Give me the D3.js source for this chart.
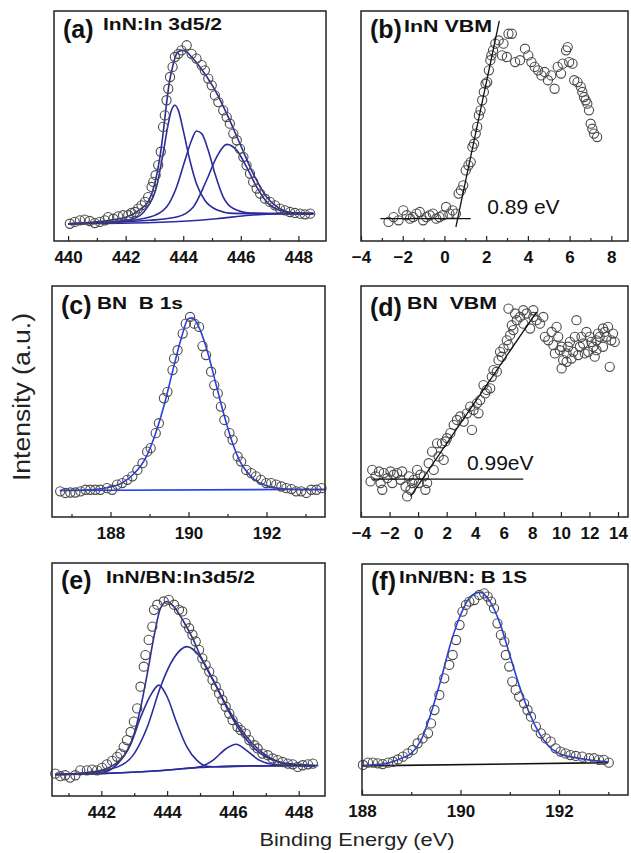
<!DOCTYPE html>
<html>
<head>
<meta charset="utf-8">
<title>XPS spectra InN / BN</title>
<script src="https://cdn.jsdelivr.net/npm/d3@7"></script>
<style>
  body { margin: 0; background: #fff; }
  svg { display: block; font-family: 'Liberation Sans', Arial, sans-serif; }
  .frame { fill: none; stroke: #222; stroke-width: 1.5; }
  .tick text { font-size: 17px; font-weight: bold; fill: #111; }
  .tick line { stroke: #222; stroke-width: 1.2; }
  .pt { fill: none; stroke: #4a4a4a; stroke-width: 1.1; }
  .tag { font-size: 25px; font-weight: bold; fill: #111; }
  .ttl { font-size: 17px; font-weight: bold; fill: #111; white-space: pre; }
  .note { font-size: 21px; fill: #111; }
  .axlab { font-size: 21px; fill: #222; }
</style>
</head>
<body>
<svg width="631" height="853"></svg>
<script>
// ---- (a) InN: In 3d5/2 ----
const aData = [[440.06,7.5],[440.23,8.3],[440.41,9.0],[440.58,9.3],[440.75,8.7],[440.93,7.8],[441.10,8.3],[441.28,9.0],[441.39,10.4],[441.57,9.7],[441.74,10.7],[441.91,11.2],[442.09,11.2],[442.20,12.2],[442.32,12.6],[442.43,14.1],[442.55,15.5],[442.67,17.0],[442.78,19.1],[442.90,23.5],[442.96,25.7],[443.04,28.6],[443.13,33.0],[443.22,38.8],[443.30,49.6],[443.36,54.6],[443.42,61.2],[443.48,66.2],[443.54,71.3],[443.63,75.7],[443.71,80.0],[443.83,81.4],[443.94,82.9],[444.12,85.1],[444.29,81.4],[444.46,79.3],[444.64,76.5],[444.75,74.2],[444.87,70.6],[444.99,67.7],[445.10,63.3],[445.22,60.4],[445.39,56.8],[445.51,53.9],[445.62,51.0],[445.74,46.7],[445.86,43.8],[445.97,40.1],[446.09,36.5],[446.20,32.9],[446.32,29.3],[446.43,25.7],[446.55,22.8],[446.67,20.6],[446.84,18.4],[447.01,17.0],[447.19,15.5],[447.36,14.1],[447.54,13.3],[447.71,12.6],[447.88,12.2],[448.06,11.9],[448.23,11.6],[448.41,11.9]];
const aEnvelope = [[440.0,7.5],[440.99,8.3],[442.03,10.4],[442.49,13.6],[442.81,17.7],[443.01,24.9],[443.19,36.5],[443.30,46.7],[443.42,59.7],[443.51,68.4],[443.63,75.7],[443.77,81.4],[443.94,82.9],[444.12,82.2],[444.29,80.0],[444.58,75.7],[445.04,67.0],[445.51,55.4],[445.97,42.3],[446.43,29.3],[446.90,19.1],[447.36,14.1],[447.83,12.3],[448.52,11.9]];
const aPeak1 = [[440.0,7.5],[441.10,7.8],[442.26,9.7],[442.72,14.1],[443.07,23.5],[443.30,38.0],[443.48,51.0],[443.59,56.8],[443.71,59.0],[443.83,56.8],[444.00,48.1],[444.23,35.1],[444.46,24.9],[444.75,17.7],[445.16,13.6],[445.74,12.0],[446.90,11.9],[448.52,11.9]];
const aPeak2 = [[440.0,7.5],[441.68,8.3],[442.84,10.4],[443.42,14.8],[443.77,23.5],[444.06,35.1],[444.29,43.8],[444.46,47.8],[444.64,46.7],[444.87,39.4],[445.10,29.3],[445.39,19.1],[445.74,14.1],[446.32,12.2],[447.48,11.9],[448.52,11.9]];
const aPeak3 = [[440.0,7.5],[442.84,9.0],[443.77,10.4],[444.35,14.8],[444.81,26.4],[445.16,36.5],[445.51,42.0],[445.86,39.4],[446.20,32.2],[446.55,23.5],[446.90,17.0],[447.36,13.3],[448.06,11.9],[448.52,11.9]];
const aBase = [[440.0,7.5],[442.26,7.8],[444.0,8.6],[445.16,9.7],[446.32,11.2],[447.48,11.9],[448.52,11.9]];
const aTicks = [440, 442, 444, 446, 448];
const aMinor = [441, 443, 445, 447];

// ---- (b) InN VBM ----
const bData = [[-2.68,8.3],[-2.44,10.4],[-2.20,9.0],[-1.97,13.3],[-1.81,11.2],[-1.65,9.7],[-1.50,10.4],[-1.34,11.9],[-1.18,12.6],[-1.02,9.0],[-0.87,10.4],[-0.71,11.2],[-0.55,11.9],[-0.39,9.7],[-0.24,10.4],[-0.08,11.2],[0.08,14.8],[0.24,11.9],[0.39,13.3],[0.55,11.9],[0.68,20.6],[0.79,22.0],[0.90,24.2],[1.02,30.7],[1.15,32.9],[1.26,34.3],[1.34,40.9],[1.42,42.3],[1.50,46.7],[1.57,49.6],[1.65,54.6],[1.73,56.8],[1.81,61.2],[1.89,64.8],[1.97,68.4],[2.05,69.1],[2.13,74.2],[2.20,78.6],[2.25,80.7],[2.33,82.9],[2.44,85.8],[2.60,87.2],[2.83,85.8],[3.07,90.1],[3.23,90.1],[2.76,80.7],[2.99,80.0],[3.39,77.8],[3.62,78.6],[3.86,83.6],[4.02,80.7],[4.17,77.8],[4.33,75.7],[4.49,74.2],[4.65,72.0],[4.80,73.5],[4.96,69.9],[5.12,72.0],[5.28,66.2],[5.43,75.7],[5.59,72.8],[5.67,77.1],[5.83,82.9],[5.91,84.3],[5.98,77.8],[6.14,77.1],[6.22,69.9],[6.38,69.1],[6.54,67.0],[6.61,64.8],[6.69,62.6],[6.77,61.2],[6.85,59.7],[6.93,56.8],[7.01,51.0],[7.09,48.8],[7.17,46.7],[7.32,45.2]];
const bEdge = [[0.55,6.1],[2.63,95.7]];
const bFlat = [[-3.07,9.7],[1.26,9.7]];
const bNote = [2.05, 11.9, '0.89 eV'];
const bTicks = [-4, -2, 0, 2, 4, 6, 8];
const bMinor = [-3, -1, 1, 3, 5, 7];

// ---- (c) BN B 1s ----
const cData = [[186.71,11.1],[186.84,10.4],[186.97,10.6],[187.10,10.6],[187.23,11.1],[187.36,11.8],[187.48,11.8],[187.61,11.8],[187.74,11.8],[187.91,12.5],[188.04,11.8],[188.17,14.0],[188.30,14.7],[188.43,16.1],[188.56,17.6],[188.69,20.4],[188.82,23.3],[188.94,28.3],[189.03,29.8],[189.16,36.3],[189.24,40.6],[189.37,51.4],[189.46,54.2],[189.59,63.6],[189.63,68.6],[189.72,72.2],[189.85,79.4],[189.93,83.7],[190.04,86.6],[190.15,83.7],[190.27,82.3],[190.36,74.0],[190.45,70.1],[190.58,62.9],[190.66,57.1],[190.75,53.5],[190.83,47.8],[190.92,42.0],[191.05,36.3],[191.13,33.4],[191.26,26.2],[191.35,24.0],[191.48,20.4],[191.61,19.0],[191.73,17.6],[191.86,16.1],[191.99,14.7],[192.12,14.7],[192.25,14.0],[192.38,13.2],[192.51,12.5],[192.64,12.1],[192.76,11.1],[192.89,11.1],[193.02,10.4],[193.15,11.8],[193.28,11.8],[193.41,12.5]];
const cFit = [[186.7,11.5],[187.5,11.8],[188.0,13.0],[188.3,14.7],[188.6,18.7],[188.9,25.5],[189.2,38.4],[189.4,50.0],[189.6,63.6],[189.8,76.5],[190.0,85.9],[190.1,86.2],[190.3,80.9],[190.5,70.8],[190.7,57.8],[190.9,44.9],[191.1,33.4],[191.3,24.7],[191.6,17.6],[192.0,13.5],[192.5,12.1],[193.0,11.8],[193.5,11.8]];
const cBase = [[186.7,11.5],[193.5,12.0]];
const cTicks = [188, 190, 192];
const cMinor = [187, 189, 191, 193];

// ---- (d) BN VBM ----
const dData = [[-3.21,20.4],[-3.33,15.4],[-2.98,17.6],[-2.74,19.7],[-2.63,14.7],[-2.51,11.8],[-2.40,19.0],[-2.16,16.8],[-1.93,19.7],[-1.81,14.7],[-1.70,18.3],[-1.47,19.0],[-1.23,16.1],[-1.12,19.7],[-0.88,13.2],[-0.77,8.9],[-0.65,17.6],[-0.53,11.8],[-0.42,14.7],[-0.30,16.1],[-0.07,20.4],[0.05,14.7],[0.16,18.3],[0.40,17.6],[0.51,11.8],[0.63,14.7],[0.74,23.3],[0.98,28.3],[1.09,20.4],[1.33,31.9],[1.44,26.2],[1.67,31.9],[1.79,24.7],[1.91,32.7],[2.02,34.1],[2.26,36.3],[2.49,39.9],[2.72,42.0],[2.95,43.5],[3.19,41.3],[3.42,44.9],[3.65,47.8],[3.77,37.7],[3.88,46.3],[4.12,49.2],[4.23,44.9],[4.35,50.6],[4.58,57.1],[4.70,53.5],[4.81,55.0],[5.05,55.7],[5.16,60.7],[5.28,63.6],[5.51,62.9],[5.63,67.9],[5.74,71.5],[5.86,69.4],[5.98,73.0],[6.21,76.5],[6.33,74.4],[6.44,78.7],[6.56,83.0],[6.67,80.9],[6.91,85.2],[7.14,86.6],[7.37,83.7],[7.60,88.1],[7.84,81.6],[8.07,86.6],[8.30,85.2],[6.33,90.2],[6.79,88.1],[7.37,89.5],[8.07,89.5],[8.53,83.7],[8.77,86.6],[8.88,78.0],[9.12,76.5],[9.35,80.1],[9.47,74.4],[9.70,82.3],[9.81,78.0],[9.93,72.2],[10.05,73.7],[10.16,67.9],[10.40,70.8],[10.51,73.7],[10.63,75.8],[10.86,71.5],[10.98,78.0],[11.09,85.2],[11.21,70.1],[11.33,73.7],[11.44,78.0],[11.56,75.1],[11.79,80.1],[11.91,71.5],[12.02,78.0],[12.14,75.8],[12.26,73.7],[12.37,69.4],[12.49,76.5],[12.60,79.4],[12.72,78.0],[12.95,81.6],[13.07,80.1],[13.19,78.0],[13.30,82.3],[13.42,65.0],[13.53,76.5],[13.65,79.4],[13.77,75.8],[12.95,73.7],[12.49,72.2],[11.67,70.8],[9.58,70.8],[10.05,64.3],[10.40,67.2],[10.74,68.6]];
const dEdge = [[-0.53,8.9],[8.3,88.8]];
const dFlat = [[-3.21,16.4],[7.37,16.4]];
const dNote = [3.42, 20.4, '0.99eV'];
const dTicks = [-4, -2, 0, 2, 4, 6, 8, 10, 12, 14];

// ---- (e) InN/BN: In3d5/2 ----
const eData = [[440.60,9.6],[440.75,8.5],[440.90,8.9],[441.05,7.9],[441.21,8.9],[441.36,11.0],[441.56,11.0],[441.72,11.3],[441.87,11.0],[442.02,12.1],[442.17,13.6],[442.33,15.1],[442.48,16.8],[442.58,18.2],[442.68,21.1],[442.78,24.0],[442.89,27.5],[442.99,31.9],[443.09,37.6],[443.19,46.9],[443.29,55.5],[443.34,60.5],[443.44,67.0],[443.55,72.7],[443.60,79.9],[443.70,82.1],[443.90,83.5],[444.05,84.2],[444.21,82.1],[444.36,79.9],[444.46,79.2],[444.56,74.2],[444.67,72.0],[444.77,69.2],[444.87,66.3],[444.97,62.7],[445.07,59.1],[445.17,56.2],[445.28,53.4],[445.38,49.8],[445.48,46.9],[445.58,44.0],[445.68,41.2],[445.78,38.3],[445.89,35.4],[445.99,32.6],[446.14,29.7],[446.24,28.3],[446.39,26.8],[446.50,24.0],[446.65,21.8],[446.75,20.4],[446.90,18.2],[447.06,17.5],[447.21,16.1],[447.36,15.4],[447.51,14.6],[447.67,13.9],[447.82,13.6],[447.97,12.5],[448.12,13.2],[448.28,13.6],[448.43,13.9]];
const eEnvelope = [[440.6,9.2],[441.5,10.0],[442.0,11.0],[442.5,14.6],[442.8,19.7],[443.0,26.8],[443.2,38.3],[443.4,52.7],[443.6,68.4],[443.8,80.6],[444.0,83.5],[444.2,81.3],[444.5,74.9],[444.8,67.0],[445.0,60.5],[445.5,46.9],[446.0,34.0],[446.5,24.0],[447.0,17.5],[447.5,14.2],[448.0,13.1],[448.5,12.9]];
const ePeak1 = [[440.6,9.2],[442.0,10.0],[442.5,13.9],[442.9,22.5],[443.2,34.0],[443.5,43.3],[443.75,47.6],[444.0,42.6],[444.3,31.1],[444.6,21.1],[444.9,15.4],[445.2,12.8],[445.6,12.5],[446.5,12.9],[448.5,13.0]];
const ePeak2 = [[440.6,9.2],[441.5,9.8],[442.5,12.5],[443.0,18.2],[443.4,29.7],[443.8,46.9],[444.2,59.1],[444.6,64.1],[445.0,59.8],[445.4,49.8],[445.8,38.3],[446.2,28.3],[446.6,21.1],[447.0,16.8],[447.5,14.2],[448.5,13.1]];
const ePeak3 = [[440.6,9.2],[443.5,10.6],[444.5,11.8],[445.0,12.5],[445.4,15.4],[445.8,20.4],[446.1,22.2],[446.4,19.7],[446.8,15.4],[447.2,13.6],[448.0,13.1],[448.5,13.0]];
const eBase = [[440.6,9.2],[442.0,9.6],[443.5,10.6],[445.0,12.2],[446.0,12.9],[448.6,13.1]];
const eTicks = [442, 444, 446, 448];
const eMinor = [441, 443, 445, 447];

// ---- (f) InN/BN: B 1S ----
const fData = [[188.02,13.0],[188.12,14.0],[188.22,14.0],[188.32,13.7],[188.42,13.4],[188.53,14.0],[188.63,14.4],[188.73,15.4],[188.83,16.6],[188.93,18.0],[189.03,19.5],[189.13,22.4],[189.23,24.5],[189.34,26.7],[189.40,31.0],[189.47,36.8],[189.57,43.3],[189.67,50.5],[189.77,56.3],[189.84,60.6],[189.91,67.1],[189.98,73.6],[190.04,79.4],[190.11,82.3],[190.18,83.7],[190.28,84.4],[190.38,86.6],[190.48,87.3],[190.55,85.9],[190.62,83.7],[190.68,80.8],[190.75,74.3],[190.82,69.3],[190.89,66.4],[190.92,60.6],[190.99,55.6],[191.05,49.1],[191.12,45.5],[191.19,42.6],[191.29,39.7],[191.36,36.8],[191.43,33.9],[191.53,29.6],[191.63,26.7],[191.73,24.5],[191.83,23.1],[191.93,20.2],[192.03,18.8],[192.13,18.0],[192.23,17.3],[192.34,16.9],[192.47,16.6],[192.61,15.9],[192.71,15.9],[192.81,15.2],[192.91,15.2],[193.01,14.0]];
const fFit = [[188.0,12.8],[188.5,13.7],[188.8,15.9],[189.0,18.0],[189.2,23.8],[189.4,35.4],[189.6,49.8],[189.8,65.7],[190.0,77.9],[190.2,85.9],[190.4,87.7],[190.6,83.7],[190.8,74.3],[191.0,60.6],[191.2,46.9],[191.4,35.4],[191.6,26.7],[191.8,20.9],[192.0,18.0],[192.3,16.3],[192.6,15.2],[193.0,14.4]];
const fBase = [[188.0,12.6],[193.0,14.0]];
const fTicks = [188, 190, 192];
const fMinor = [189, 191, 193];

const navy = '#2b2b9e', blue = '#2440f0';

// layout of the six frames; tag = panel letter, ttl = [x offset, baseline offset, width]
const panels = [
  { box: [54, 11, 326, 241], xd: [439.51, 448.96], ticks: aTicks, minor: aMinor, data: aData,
    curves: [[aBase, navy], [aPeak1, navy], [aPeak2, navy], [aPeak3, navy], [aEnvelope, navy]],
    tag: '(a)', tagY: 27, title: 'InN:In 3d5/2', ttl: [49, 19, 119], dataFirst: true },
  { box: [361, 11, 628, 241], xd: [-4, 8.8], ticks: bTicks, minor: bMinor, data: bData,
    lines: [bEdge, bFlat], note: bNote,
    tag: '(b)', tagY: 27, title: 'InN VBM', ttl: [43, 21, 88] },
  { box: [52, 286, 325, 517], xd: [186.5, 193.5], ticks: cTicks, minor: cMinor, data: cData,
    curves: [[cBase, blue], [cFit, blue]],
    tag: '(c)', tagY: 28, title: 'BN  B 1s', ttl: [45, 23, 86], dataFirst: true },
  { box: [361, 286, 628, 517], xd: [-4, 14.7], ticks: dTicks, minor: [], data: dData,
    lines: [dEdge, dFlat], note: dNote,
    tag: '(d)', tagY: 30, title: 'BN  VBM', ttl: [46, 23, 90] },
  { box: [52, 563, 325, 796], xd: [440.5, 448.8], ticks: eTicks, minor: eMinor, data: eData,
    curves: [[eBase, navy], [ePeak1, navy], [ePeak2, navy], [ePeak3, navy], [eEnvelope, navy]],
    tag: '(e)', tagY: 26, title: 'InN/BN:In3d5/2', ttl: [54, 20, 149], dataFirst: true },
  { box: [362, 564, 628, 795], xd: [188, 193.4], ticks: fTicks, minor: fMinor, data: fData,
    curves: [[fBase, '#111'], [fFit, blue]],
    tag: '(f)', tagY: 26, title: 'InN/BN: B 1S', ttl: [37, 19, 128], dataFirst: true }
];

const svg = d3.select('svg');

panels.forEach(p => {
  const [x0, y0, x1, y1] = p.box;
  const x = d3.scaleLinear().domain(p.xd).range([x0, x1]);
  const y = d3.scaleLinear().domain([0, 100]).range([y1, y0]);
  const g = svg.append('g');

  const drawPoints = () => g.append('g').selectAll('circle')
    .data(p.data).join('circle')
    .attr('class', 'pt')
    .attr('cx', d => x(d[0])).attr('cy', d => y(d[1])).attr('r', 4.6);

  if (!p.dataFirst) drawPoints();

  const line = d3.line().x(d => x(d[0])).y(d => y(d[1])).curve(d3.curveMonotoneX);
  (p.curves || []).forEach(([pts, col]) => {
    g.append('path').attr('d', line(pts))
      .attr('fill', 'none').attr('stroke', col).attr('stroke-width', 1.6);
  });
  const straight = d3.line().x(d => x(d[0])).y(d => y(d[1]));
  (p.lines || []).forEach(pts => {
    g.append('path').attr('d', straight(pts))
      .attr('fill', 'none').attr('stroke', '#111').attr('stroke-width', 1.3);
  });

  if (p.dataFirst) drawPoints();

  if (p.note) {
    g.append('text').attr('class', 'note')
      .attr('x', x(p.note[0])).attr('y', y(p.note[1])).text(p.note[2]);
  }

  // bottom axis, ticks pointing inward
  g.append('g').attr('transform', `translate(0,${y1})`)
    .call(d3.axisBottom(x).tickValues(p.ticks).tickSize(-5).tickPadding(10).tickFormat(d3.format('d')))
    .call(a => a.select('.domain').remove());
  g.append('g').attr('transform', `translate(0,${y1})`)
    .call(d3.axisBottom(x).tickValues(p.minor).tickSize(-3).tickFormat(''))
    .call(a => a.select('.domain').remove());

  g.append('rect').attr('class', 'frame')
    .attr('x', x0).attr('y', y0).attr('width', x1 - x0).attr('height', y1 - y0);

  g.append('text').attr('class', 'tag').attr('x', x0 + 9).attr('y', y0 + p.tagY).text(p.tag);
  g.append('text').attr('class', 'ttl')
    .attr('x', x0 + p.ttl[0]).attr('y', y0 + p.ttl[1])
    .attr('textLength', p.ttl[2]).attr('lengthAdjust', 'spacingAndGlyphs')
    .text(p.title);
});

svg.append('text').attr('class', 'axlab')
  .attr('transform', 'translate(30,397) rotate(-90)')
  .attr('text-anchor', 'middle')
  .attr('textLength', 168).attr('lengthAdjust', 'spacingAndGlyphs')
  .style('font-size', '23px')
  .text('Intensity (a.u.)');

svg.append('text').attr('class', 'axlab')
  .attr('x', 357).attr('y', 846)
  .attr('text-anchor', 'middle')
  .attr('textLength', 195).attr('lengthAdjust', 'spacingAndGlyphs')
  .style('font-size', '19px')
  .text('Binding Energy (eV)');
</script>
</body>
</html>
